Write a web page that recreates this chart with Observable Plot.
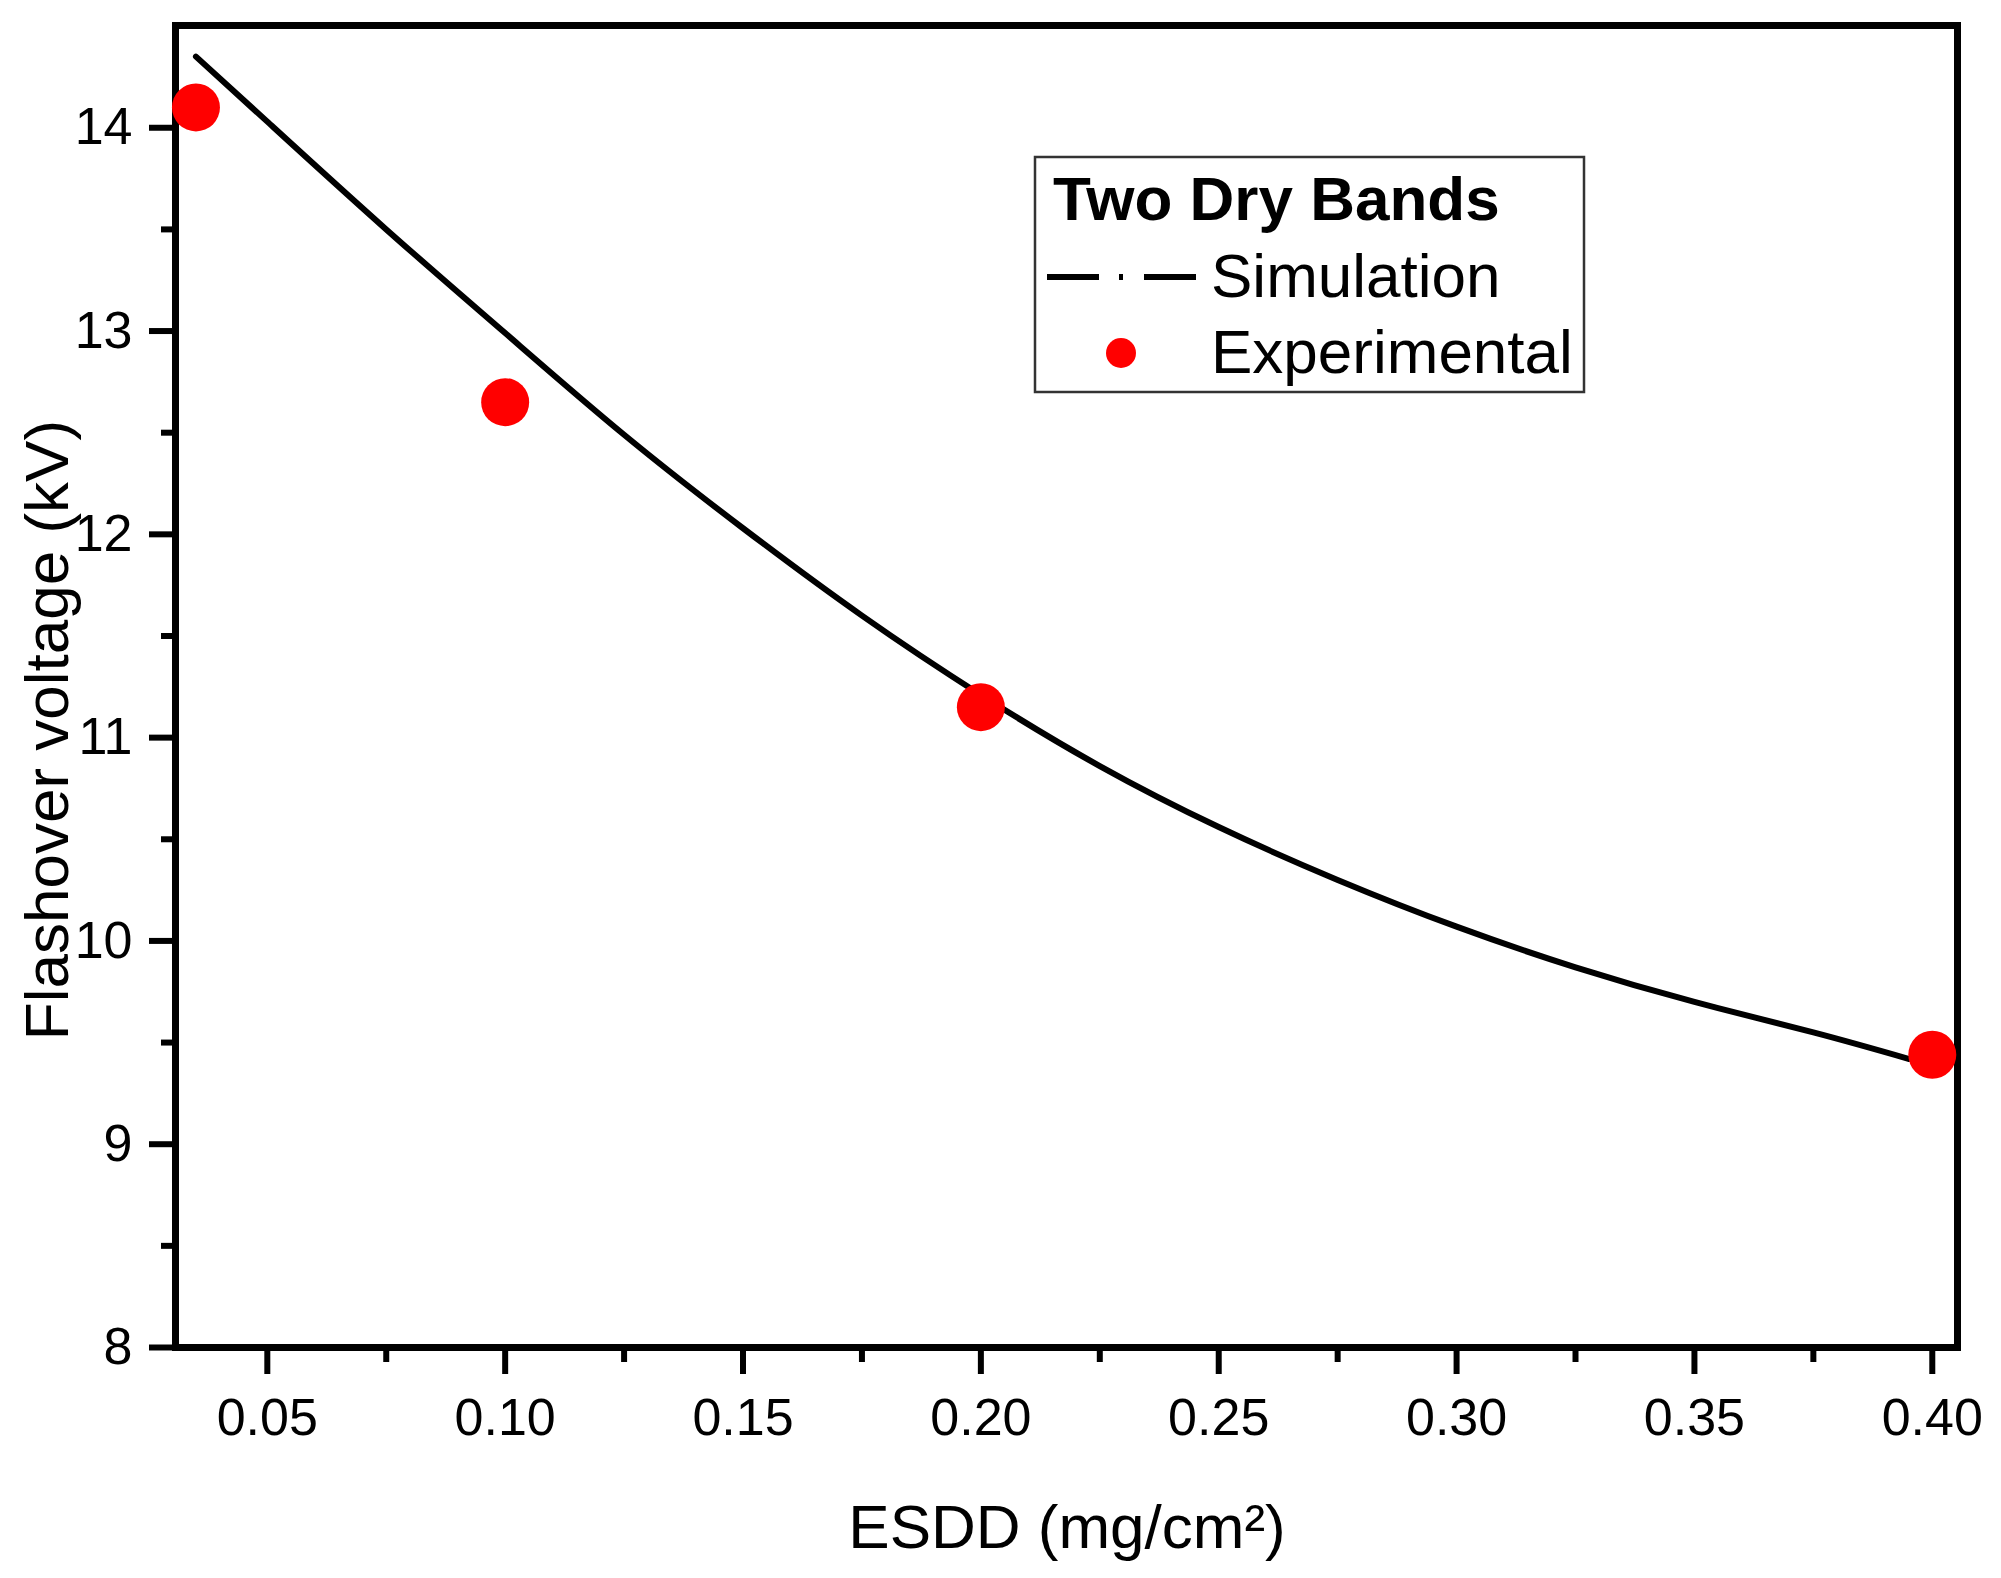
<!DOCTYPE html>
<html>
<head>
<meta charset="utf-8">
<script src="https://cdn.jsdelivr.net/npm/d3@7"></script>
<script src="https://cdn.jsdelivr.net/npm/@observablehq/plot@0.6"></script>
<style>
  body { margin: 0; background: #fff; }
  svg { display: block; }
</style>
</head>
<body>
<div id="chart"></div>
<script>
// Simulation curve
const simX = [0.035, 0.05, 0.075, 0.10, 0.125, 0.15, 0.175, 0.20, 0.225, 0.25, 0.275, 0.30, 0.325, 0.35, 0.375, 0.395];
const simY = [14.35, 14.03, 13.50, 12.99, 12.49, 12.03, 11.60, 11.21, 10.86, 10.56, 10.30, 10.07, 9.87, 9.70, 9.55, 9.42];
// Experimental points
const expX = [0.035, 0.10, 0.20, 0.40];
const expY = [14.10, 12.65, 11.15, 9.44];
// Ticks
const xMajor = [0.05, 0.10, 0.15, 0.20, 0.25, 0.30, 0.35, 0.40];
const xMinor = [0.075, 0.125, 0.175, 0.225, 0.275, 0.325, 0.375];
const yMajor = [8, 9, 10, 11, 12, 13, 14];
const yMinor = [8.5, 9.5, 10.5, 11.5, 12.5, 13.5];
// Texts
const xLabel = "ESDD (mg/cm²)";
const yLabel = "Flashover voltage (kV)";
const legendTitle = "Two Dry Bands";
const seriesNames = ["Simulation", "Experimental"];

const font = "'Liberation Sans', Arial, Helvetica, sans-serif";
const sim = simX.map((x, i) => ({x, y: simY[i]}));
const exp = expX.map((x, i) => ({x, y: expY[i]}));

const plot = Plot.plot({
  width: 2001,
  height: 1578,
  marginLeft: 175,
  marginRight: 44,
  marginTop: 25,
  marginBottom: 231,
  style: {fontFamily: font, background: "#fff", color: "#000"},
  x: {domain: [0.0307, 0.4053]},
  y: {domain: [8, 14.503]},
  marks: [
    Plot.axisX(xMajor, {tickSize: 27, tickPadding: 24, tickFormat: d3.format(".2f"), fontSize: 52, strokeWidth: 6, label: null}),
    Plot.axisX(xMinor, {tickSize: 15, text: null, strokeWidth: 6, label: null}),
    Plot.axisY(yMajor, {tickSize: 26, tickPadding: 17, tickFormat: d3.format("d"), fontSize: 52, strokeWidth: 6, label: null}),
    Plot.axisY(yMinor, {tickSize: 14, text: null, strokeWidth: 6, label: null}),
    Plot.frame({stroke: "#000", strokeWidth: 7}),
    Plot.line(sim, {x: "x", y: "y", stroke: "#000", strokeWidth: 6, curve: "natural"}),
    Plot.dot(exp, {x: "x", y: "y", r: 24, fill: "#ff0000", stroke: "none"})
  ]
});

const svg = d3.select(plot);

// Axis titles
svg.append("text")
  .attr("x", 1067).attr("y", 1548)
  .attr("text-anchor", "middle").attr("font-family", font).attr("font-size", 62).attr("fill", "#000")
  .text(xLabel);
svg.append("text")
  .attr("transform", "translate(68,730) rotate(-90)")
  .attr("text-anchor", "middle").attr("font-family", font).attr("font-size", 62).attr("fill", "#000")
  .text(yLabel);

// Legend box inside the plot
const g = svg.append("g").attr("font-family", font).attr("fill", "#000").attr("text-anchor", "start");
g.append("rect")
  .attr("x", 1035).attr("y", 157).attr("width", 549).attr("height", 235)
  .attr("fill", "#fff").attr("stroke", "#333").attr("stroke-width", 2.5);
g.append("text").attr("x", 1053).attr("y", 220)
  .attr("font-size", 62).attr("font-weight", "bold").text(legendTitle);
g.append("line")
  .attr("x1", 1047).attr("x2", 1196).attr("y1", 277).attr("y2", 277)
  .attr("stroke", "#000").attr("stroke-width", 6)
  .attr("stroke-dasharray", "52 20 4 21 52");
g.append("text").attr("x", 1211).attr("y", 297).attr("font-size", 62).text(seriesNames[0]);
g.append("circle").attr("cx", 1121).attr("cy", 353).attr("r", 15).attr("fill", "#ff0000");
g.append("text").attr("x", 1211).attr("y", 373).attr("font-size", 62).text(seriesNames[1]);

document.getElementById("chart").appendChild(plot);
</script>
</body>
</html>
